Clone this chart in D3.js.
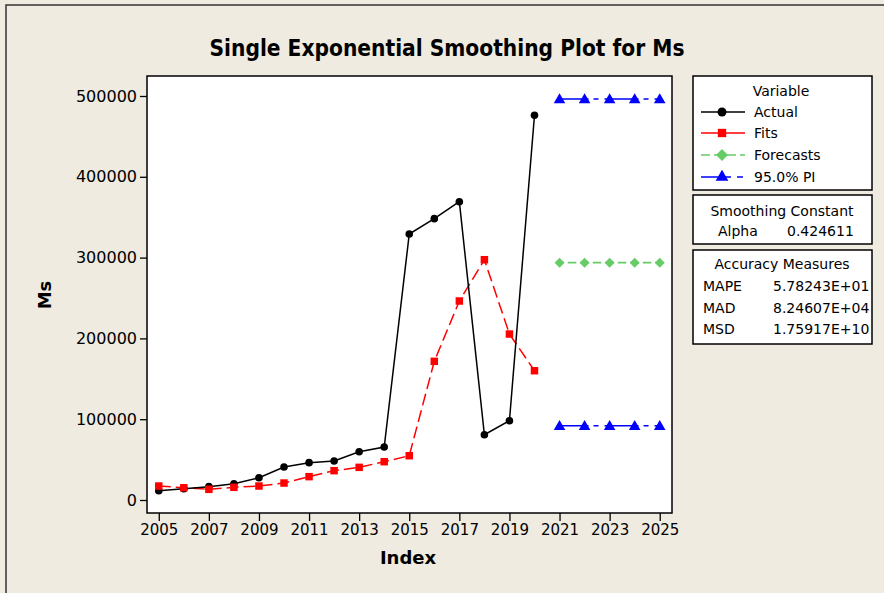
<!DOCTYPE html>
<html>
<head>
<meta charset="utf-8">
<script src="https://cdn.jsdelivr.net/npm/d3@7"></script>
<style>
  body { margin: 0; background: #efebe1; }
  text { font-family: "DejaVu Sans", sans-serif; fill: #000; }
</style>
</head>
<body>
<svg width="884" height="593"></svg>
<script>
// datos
const years = [2005, 2006, 2007, 2008, 2009, 2010, 2011, 2012, 2013, 2014, 2015, 2016, 2017, 2018, 2019, 2020];
const actual = [11500, 14000, 16500, 20200, 27600, 40800, 46200, 48300, 59800, 65600, 329200, 348200, 369200, 80800, 98100, 476100];
const fits = [17300, 15200, 13200, 15700, 17300, 21000, 28900, 36300, 40400, 47400, 54800, 171600, 246300, 297400, 205400, 160000];
const forecastYears = [2021, 2022, 2023, 2024, 2025];
const forecasts = [293700, 293700, 293700, 293700, 293700];
const upperPI = [496300, 496300, 496300, 496300, 496300];
const lowerPI = [92000, 92000, 92000, 92000, 92000];
const xTicks = [2005, 2007, 2009, 2011, 2013, 2015, 2017, 2019, 2021, 2023, 2025];
const yTicks = [0, 100000, 200000, 300000, 400000, 500000];

const svg = d3.select("svg");

// borde exterior
svg.append("path")
  .attr("d", "M6,593 V5 H884")
  .attr("fill", "none").attr("stroke", "#333").attr("stroke-width", 1.5);

const box = {left: 147, top: 76, right: 672, bottom: 513};

const x = d3.scaleLinear().domain([2004.53, 2025.49]).range([box.left, box.right]);
const y = d3.scaleLinear().domain([0, 500000]).range([500, 96]);

// area del grafico
svg.append("rect")
  .attr("x", box.left).attr("y", box.top)
  .attr("width", box.right - box.left).attr("height", box.bottom - box.top)
  .attr("fill", "#fff").attr("stroke", "#000").attr("stroke-width", 1.5);

// ejes
const yAxis = svg.append("g")
  .attr("transform", `translate(${box.left},0)`)
  .call(d3.axisLeft(y).tickValues(yTicks).tickFormat(d3.format("d")).tickSize(7).tickPadding(3));
yAxis.select(".domain").remove();
yAxis.selectAll("text").style("font-size", "16px").style("font-family", "DejaVu Sans");
yAxis.selectAll("line").attr("stroke-width", 1.3);

const xAxis = svg.append("g")
  .attr("transform", `translate(0,${box.bottom})`)
  .call(d3.axisBottom(x).tickValues(xTicks).tickFormat(d3.format("d")).tickSize(8).tickPadding(3));
xAxis.select(".domain").remove();
xAxis.selectAll("text").style("font-size", "15px").style("font-family", "DejaVu Sans");
xAxis.selectAll("line").attr("stroke-width", 1.3);

// titulos
svg.append("text")
  .attr("x", 447).attr("y", 56)
  .attr("text-anchor", "middle")
  .style("font-family", "DejaVu Sans Condensed").style("font-weight", "bold").style("font-size", "22.5px")
  .text("Single Exponential Smoothing Plot for Ms");

svg.append("text")
  .attr("x", 408).attr("y", 564)
  .attr("text-anchor", "middle")
  .style("font-weight", "bold").style("font-size", "18px")
  .text("Index");

svg.append("text")
  .attr("transform", "translate(51,295) rotate(-90)")
  .attr("text-anchor", "middle")
  .style("font-weight", "bold").style("font-size", "18px")
  .text("Ms");

const line = d3.line().x(d => x(d[0])).y(d => y(d[1]));
const actualPts = years.map((yr, i) => [yr, actual[i]]);
const fitsPts = years.map((yr, i) => [yr, fits[i]]);
const fcPts = forecastYears.map((yr, i) => [yr, forecasts[i]]);
const upPts = forecastYears.map((yr, i) => [yr, upperPI[i]]);
const loPts = forecastYears.map((yr, i) => [yr, lowerPI[i]]);

const plot = svg.append("g");

// simbolos
const square = d3.symbol().type(d3.symbolSquare).size(56);
const diamond = d3.symbol().type(d3.symbolSquare).size(50); // se rota 45 grados
const triangle = d3.symbol().type(d3.symbolTriangle).size(58);

// Fits
plot.append("path").datum(fitsPts)
  .attr("d", line).attr("fill", "none")
  .attr("stroke", "#ff0000").attr("stroke-width", 1.5).attr("stroke-dasharray", "12,5");

// Actual
plot.append("path").datum(actualPts)
  .attr("d", line).attr("fill", "none")
  .attr("stroke", "#000").attr("stroke-width", 1.5);

plot.selectAll(".act").data(actualPts).enter().append("circle")
  .attr("cx", d => x(d[0])).attr("cy", d => y(d[1])).attr("r", 3.8).attr("fill", "#000");

plot.selectAll(".fit").data(fitsPts).enter().append("path")
  .attr("d", square).attr("transform", d => `translate(${x(d[0])},${y(d[1])})`).attr("fill", "#ff0000");

// Forecasts
plot.append("path").datum(fcPts)
  .attr("d", line).attr("fill", "none")
  .attr("stroke", "#66cc66").attr("stroke-width", 1.8)
  .attr("stroke-dasharray", "8.5,4").attr("stroke-dashoffset", 4.25);

plot.selectAll(".fc").data(fcPts).enter().append("path")
  .attr("d", diamond).attr("transform", d => `translate(${x(d[0])},${y(d[1])}) rotate(45)`).attr("fill", "#66cc66");

// PI
[upPts, loPts].forEach(pts => {
  plot.append("path").datum(pts)
    .attr("d", line).attr("fill", "none")
    .attr("stroke", "#0000ff").attr("stroke-width", 1.5)
    .attr("stroke-dasharray", "34,5,5,6").attr("stroke-dashoffset", 5);
  plot.selectAll(null).data(pts).enter().append("path")
    .attr("d", triangle).attr("transform", d => `translate(${x(d[0])},${y(d[1]) + 1})`).attr("fill", "#0000ff");
});

// leyenda
function legendBox(y0, y1) {
  svg.append("rect")
    .attr("x", 693).attr("y", y0).attr("width", 179).attr("height", y1 - y0)
    .attr("fill", "#fff").attr("stroke", "#000").attr("stroke-width", 1.5);
}
legendBox(76, 190);
legendBox(195, 244);
legendBox(250, 344);

const lt = (tx, ty, s, anchor) => svg.append("text")
  .attr("x", tx).attr("y", ty).attr("text-anchor", anchor || "start")
  .style("font-size", "14px").text(s);

lt(781, 96, "Variable", "middle");
const items = [
  {name: "Actual", color: "#000", dash: null, sym: "circle"},
  {name: "Fits", color: "#ff0000", dash: null, sym: square, rot: 0},
  {name: "Forecasts", color: "#66cc66", dash: "9,4", sym: diamond, rot: 45},
  {name: "95.0% PI", color: "#0000ff", dash: "30,6,6,20", sym: triangle, rot: 0}
];
const rowY = [112, 133, 155, 177];
items.forEach((it, i) => {
  const cy = rowY[i];
  svg.append("line")
    .attr("x1", 701).attr("x2", 745).attr("y1", cy).attr("y2", cy)
    .attr("stroke", it.color).attr("stroke-width", 1.5)
    .attr("stroke-dasharray", it.dash);
  if (it.sym === "circle") {
    svg.append("circle").attr("cx", 722).attr("cy", cy).attr("r", 4.5).attr("fill", it.color);
  } else {
    svg.append("path").attr("d", it.sym.size(70)).attr("transform", `translate(722,${cy}) rotate(${it.rot})`).attr("fill", it.color);
  }
  lt(754, cy + 5, it.name);
});

lt(782, 216, "Smoothing Constant", "middle");
lt(718, 236, "Alpha");
lt(787, 236, "0.424611");

lt(782, 269, "Accuracy Measures", "middle");
const measures = ["MAPE", "MAD", "MSD"];
const measureVals = ["5.78243E+01", "8.24607E+04", "1.75917E+10"];
measures.forEach((m, i) => {
  lt(703, 291 + i * 21.5, m);
  lt(773, 291 + i * 21.5, measureVals[i]);
});
</script>
</body>
</html>
